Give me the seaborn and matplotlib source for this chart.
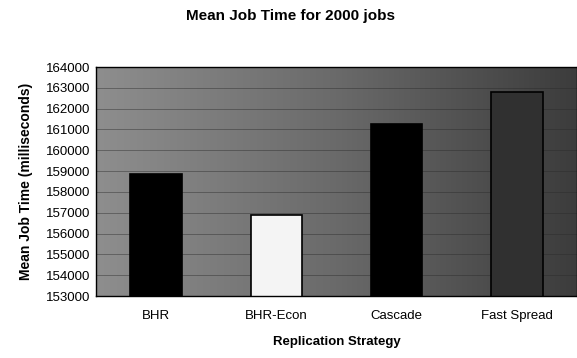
import numpy as np
import pandas as pd
import matplotlib
matplotlib.use("Agg")
import matplotlib.pyplot as plt
import seaborn as sns

strategies = ["BHR", "BHR-Econ", "Cascade", "Fast Spread"]
mean_times = [158850, 156900, 161250, 162800]
yticks = list(range(153000, 164001, 1000))

sns.set_theme(style="white")
plt.rcParams['font.family'] = ['Liberation Sans', 'DejaVu Sans']
plt.rcParams['text.color'] = 'black'
plt.rcParams['axes.labelcolor'] = 'black'
plt.rcParams['xtick.color'] = 'black'
plt.rcParams['ytick.color'] = 'black'

df = pd.DataFrame({"Strategy": strategies, "Time": mean_times})

fig = plt.figure(figsize=(5.77, 3.58), dpi=100)
ax = fig.add_axes([96/577, 1-296/358, (577-96)/577, (296-67)/358])

# textured-looking background: horizontal gradient light->dark
grad = np.linspace(0, 1, 256).reshape(1, -1)
ax.imshow(grad, cmap=matplotlib.colors.LinearSegmentedColormap.from_list(
    "bg", ["#8e8e8e", "#6a6a6a", "#3c3c3c"]),
    extent=[0, 1, 0, 1], transform=ax.transAxes, aspect="auto", zorder=0)

palette = ["#000000", "#f4f4f4", "#000000", "#303030"]
sns.barplot(data=df, x="Strategy", y="Time", hue="Strategy", palette=palette,
            legend=False, width=0.43, ax=ax, zorder=2, saturation=1)
for p in ax.patches:
    p.set_edgecolor("#000000")
    p.set_linewidth(1.2)

ax.set_ylim(153000, 164000)
ax.set_xlim(-0.5, 3.5)
ax.set_yticks(yticks)
ax.set_yticklabels([str(v) for v in yticks], fontsize=9.5)
ax.tick_params(axis="x", labelsize=9.5, pad=10, length=0)
ax.tick_params(axis="y", length=0, pad=4)
for v in yticks:
    ax.axhline(v, color="#2a2a2a", lw=0.6, alpha=0.5, zorder=1)
for s in ax.spines.values():
    s.set_color("#000000")
    s.set_linewidth(1.0)

ax.set_xlabel("Replication Strategy", fontsize=9.5, fontweight="bold", labelpad=10)
ax.set_ylabel("Mean Job Time (milliseconds)", fontsize=10, fontweight="bold", labelpad=9)
fig.text(290/577, 1-16/358, "Mean Job Time for 2000 jobs", ha="center", va="center",
         fontsize=11, fontweight="bold")

fig.savefig("out.png", dpi=100)
